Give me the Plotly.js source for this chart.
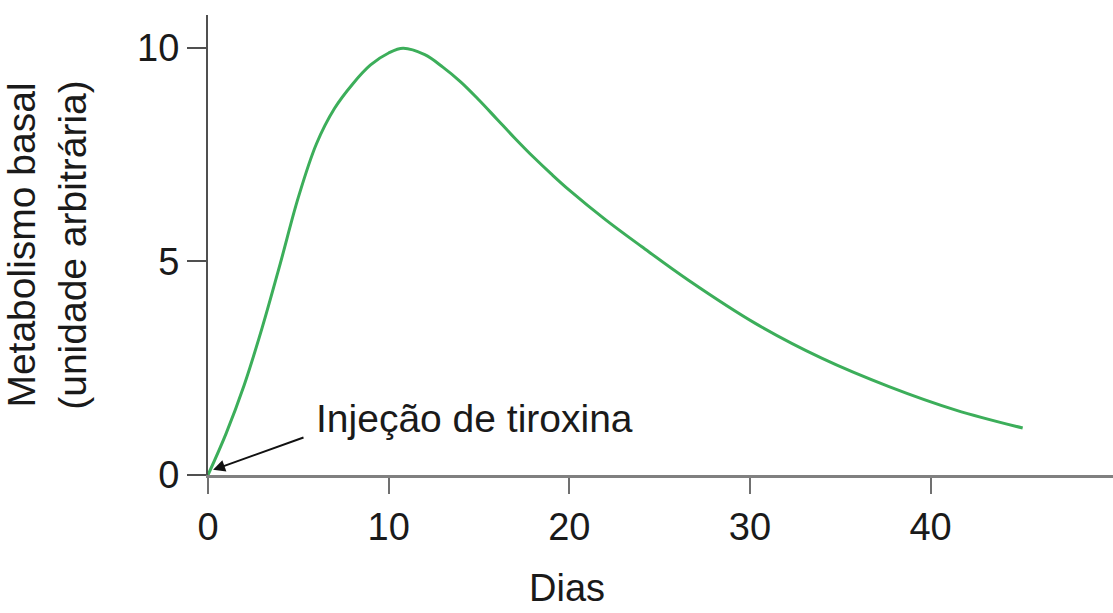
<!DOCTYPE html>
<html>
<head>
<meta charset="utf-8">
<script src="https://cdn.plot.ly/plotly-3.0.1.min.js"></script>
<style>html,body{margin:0;padding:0;background:#fff;}#chart{width:1113px;height:613px;}</style>
</head>
<body>
<div id="chart"></div>
<script>
// Days after injection
const dias = [0, 1, 2, 3, 4, 5, 6, 7, 8, 9, 10, 10.8, 12, 13, 14, 15, 16, 17, 18, 19, 20, 22, 24, 26.6, 30.3, 34.0, 37.7, 41.4, 45.1];
// Basal metabolism (arbitrary units)
const metabolismo = [0, 0.97, 2.1, 3.45, 4.95, 6.5, 7.75, 8.58, 9.15, 9.6, 9.88, 9.99, 9.84, 9.55, 9.2, 8.78, 8.33, 7.88, 7.45, 7.05, 6.67, 5.98, 5.35, 4.56, 3.55, 2.73, 2.07, 1.52, 1.1];
const xTicks = [0, 10, 20, 30, 40];
const yTicks = [0, 5, 10];
const xTitle = "Dias";
const yTitle = "Metabolismo basal<br>(unidade arbitrária)";
const annotText = "Injeção de tiroxina";

const FONT = "Liberation Sans, Arial, Helvetica, sans-serif";

const trace = {
  x: dias, y: metabolismo, type: "scatter", mode: "lines",
  line: {color: "#3cae5a", width: 3, shape: "spline", smoothing: 1.0},
  hoverinfo: "skip", showlegend: false
};

const layout = {
  width: 1113, height: 613,
  margin: {l: 208, r: 0, t: 15, b: 138},
  paper_bgcolor: "#fff", plot_bgcolor: "#fff",
  font: {family: FONT, size: 37, color: "#1a1a1a"},
  showlegend: false,
  xaxis: {
    range: [0, 50.1], tickvals: xTicks, ticktext: xTicks.map(String),
    showgrid: false, zeroline: false, showline: true, linecolor: "#808080", linewidth: 3,
    ticks: "outside", ticklen: 16, tickwidth: 2, tickcolor: "#707070",
    tickfont: {family: FONT, size: 38, color: "#1a1a1a"}, fixedrange: true
  },
  yaxis: {
    range: [0, 10.77], tickvals: yTicks, ticktext: yTicks.map(String),
    showgrid: false, zeroline: false, showline: true, linecolor: "#505050", linewidth: 2,
    ticks: "outside", ticklen: 19, tickwidth: 2, tickcolor: "#505050",
    tickfont: {family: FONT, size: 38, color: "#1a1a1a"},
    title: {text: yTitle, font: {family: FONT, size: 39, color: "#1a1a1a"}, standoff: 48},
    fixedrange: true
  },
  annotations: [
    {
      x: 0.28, y: 0.12, xref: "x", yref: "y",
      ax: 5.37, ay: 0.89, axref: "x", ayref: "y",
      text: "", showarrow: true, arrowhead: 2, arrowsize: 1.2, arrowwidth: 2,
      arrowcolor: "#111", standoff: 0
    },
    {
      x: 5.85, y: 1.33, xref: "x", yref: "y", xanchor: "left", yanchor: "middle",
      text: annotText, showarrow: false,
      font: {family: FONT, size: 39, color: "#1a1a1a"}
    },
    {
      x: 19.9, y: 0, xref: "x", yref: "paper", xanchor: "center", yanchor: "middle",
      yshift: -113, text: xTitle, showarrow: false,
      font: {family: FONT, size: 38, color: "#1a1a1a"}
    }
  ]
};

Plotly.newPlot("chart", [trace], layout, {displayModeBar: false, staticPlot: true});
</script>
</body>
</html>
